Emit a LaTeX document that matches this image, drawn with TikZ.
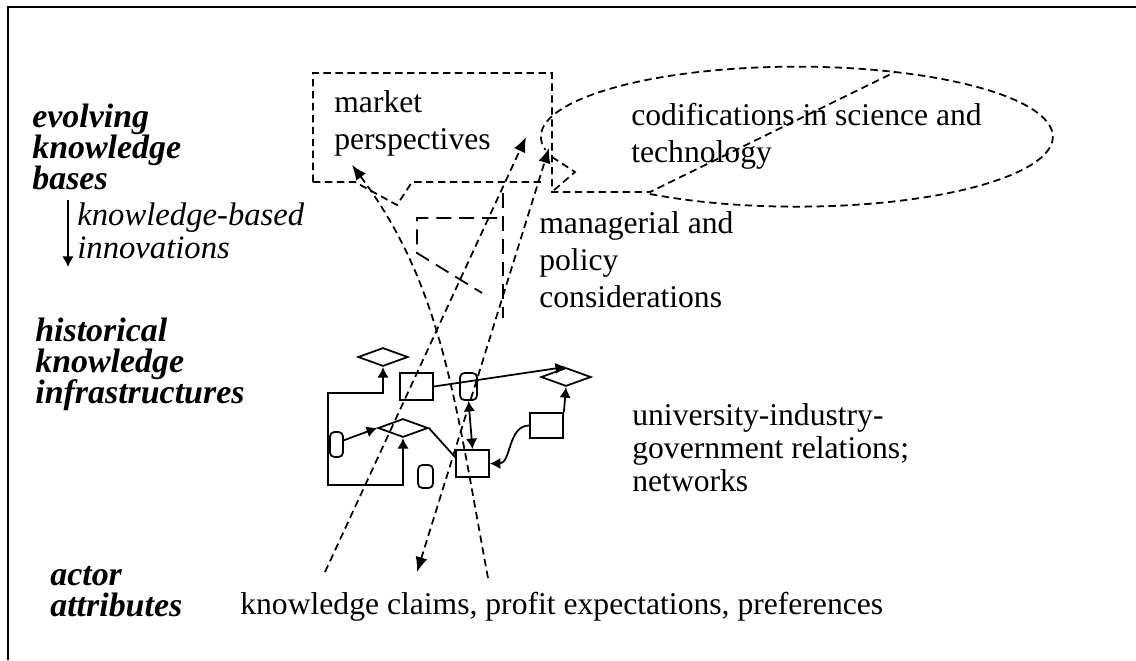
\documentclass[tikz,border=0pt]{standalone}
\usepackage{fontspec}
\setmainfont{Liberation Serif}
\usetikzlibrary{arrows.meta,shapes.geometric,calc}
\lineskiplimit=-20pt

\begin{document}
\begin{tikzpicture}[x=0.02cm,y=-0.02cm,>={Latex[length=6pt,width=6.5pt]},
   traj/.style={line width=1pt,dash pattern=on 4.2pt off 2.6pt},
   bigtip/.style={>={Latex[length=8.5pt,width=7pt]}},
   funnel/.style={line width=1pt,dash pattern=on 8.5pt off 4.5pt},
   net/.style={line width=1pt},
   box/.style={draw,net,rectangle,minimum width=0.66cm,minimum height=0.54cm,inner sep=0pt},
   select/.style={draw,net,diamond,minimum width=1cm,minimum height=0.37cm,inner sep=0pt},
   pill/.style={draw,net,rectangle,rounded corners=2.5pt,minimum width=0.3cm,minimum height=0.46cm,inner sep=0pt},
   level/.style={anchor=base west,align=left,inner sep=0pt,font=\fontsize{19.3}{17.6}\selectfont\bfseries\itshape},
   txt/.style={anchor=base west,align=left,inner sep=0pt,font=\fontsize{18}{21}\selectfont}]
\useasboundingbox (0,0) rectangle (1136,660);
\pgfmathsetmacro{\rx}{256}
\pgfmathsetmacro{\ry}{70}

\draw[line width=1.2pt] (8,660) -- (8,7) -- (1136,7);

% levels on the left
\node[level] (kbases) at (32,189) {evolving\\knowledge\\bases};
\node[level] (infra) at (35,403) {historical\\knowledge\\infrastructures};
\node[level] (actors) at (50,616) {actor\\attributes};
\coordinate (flowtop) at (68,200);
\coordinate (flowend) at (68,267);
\draw[net,->] (flowtop) -- (flowend);
\node[anchor=base west,align=left,inner sep=0pt,font=\fontsize{18.6}{18.3}\selectfont\itshape] (kbi) at (77,258) {knowledge-based\\innovations};

% selection environments
\draw[traj] (313,182) -- (313,73) -- (552,73) -- (552,192) -- (650,192) -- (895,72);
\draw[traj] (313,182) -- (355,182) -- (397,205) -- (412,182) -- (545,182);
\draw[traj] (650,194) arc[start angle=125,end angle=-191,x radius=\rx,y radius=\ry];
\draw[traj] (552,157) -- (575,172) -- (553,191);
\draw[funnel] (503,193) -- (503,318);
\draw[funnel] (497,218) -- (417,218) -- (417,253) -- (482,293);

\node[txt] (market) at (334,149) {market\\perspectives};
\node[txt] (codif) at (631,162) {codifications in science and\\technology};
\node[txt] (policy) at (539,307) {managerial and\\policy\\considerations};

% network of relations
\node[select] (d1) at (383,357) {};
\node[select] (d2) at (403,428) {};
\node[select] (d3) at (566,377) {};
\node[box] (r1) at (416.5,386.5) {};
\node[box] (hub) at (472.5,463.5) {};
\node[box,minimum height=0.5cm] (r4) at (546.5,425.5) {};
\node[pill,minimum width=0.34cm,minimum height=0.54cm] (c1) at (468.5,386.5) {};
\node[pill,minimum width=0.26cm,minimum height=0.5cm] (c2) at (336.5,444.5) {};
\node[pill] (c3) at (425.5,476.5) {};

\coordinate (lt) at (328,393);
\coordinate (lb) at (328,485);
\draw[net,<->] (d2.south) -- (d2.south |- lb) -- (lb) -- (lt) -- (d1.south |- lt) -- (d1.south);
\draw[net,->] (c2.30) -- (d2.west);
\draw[net] (d2.east) -- (hub.160);
\draw[net,->] (r1.east) -- (d3.north);
\draw[net,<->] (c1.south) -- (hub.north);
\draw[net,->] (r4.north east) -- (d3.south);
\draw[net,->] (r4.west) to[out=180,in=0] (hub.east);

\node[txt,font=\fontsize{18}{18.6}\selectfont] (uig) at (632,491) {university-industry-\\government relations;\\networks};

% trajectories
\coordinate (a1) at (325,572);
\coordinate (a2) at (488,578);
\coordinate (a3) at (417,572);
\draw[traj,bigtip,->] (a1) -- (526,137);
\draw[traj,bigtip,->] (a2) .. controls (455,400) and (442,285) .. (352,165);
\draw[traj,bigtip,<->] (a3) -- (549,148);

\node[txt] (claims) at (240,614) {knowledge claims, profit expectations, preferences};
\end{tikzpicture}
\end{document}
